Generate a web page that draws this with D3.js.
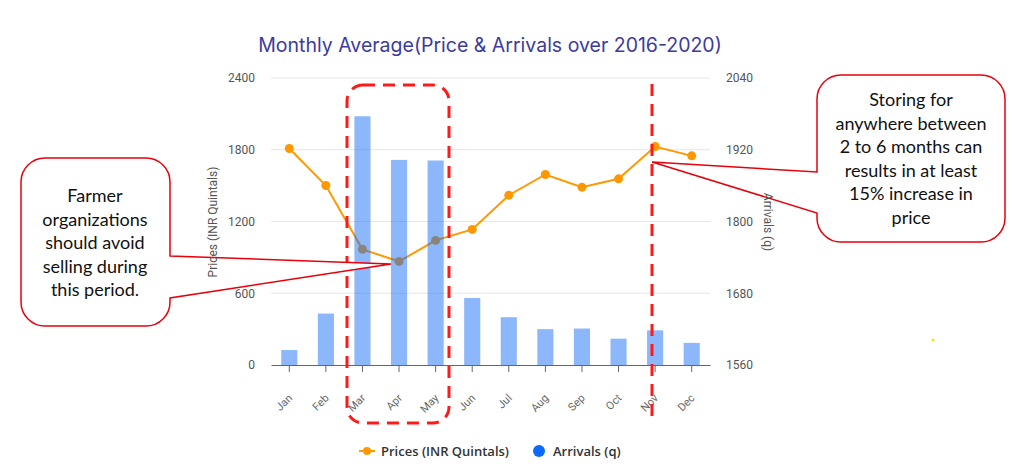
<!DOCTYPE html>
<html>
<head>
<meta charset="utf-8">
<script src="https://cdn.jsdelivr.net/npm/d3@7"></script>
<style>
  body { margin: 0; background: #fff; }
  svg { display: block; }
</style>
</head>
<body>
<div class="chart"></div>
<script>
// data
const months = ['Jan', 'Feb', 'Mar', 'Apr', 'May', 'Jun', 'Jul', 'Aug', 'Sep', 'Oct', 'Nov', 'Dec']
const prices = [1810, 1501, 967, 866, 1042, 1134, 1420, 1593, 1487, 1557, 1827, 1749]
const arrivals = [1585, 1646, 1976, 1903, 1902, 1672, 1640, 1620, 1621, 1604, 1618, 1597]
const priceTicks = [0, 600, 1200, 1800, 2400]
const arrivalTicks = [1560, 1680, 1800, 1920, 2040]
const leftNote = ['Farmer', 'organizations', 'should avoid', 'selling during', 'this period.']
const rightNote = ['Storing for', 'anywhere between', '2 to 6 months can', 'results in at least', '15% increase in', 'price']

const W = 1024, H = 467
const m = { top: 78, right: 314, bottom: 102, left: 271 }
const w = W - m.left - m.right
const h = H - m.top - m.bottom

const svg = d3.select('.chart').append('svg')
    .attr('width', W)
    .attr('height', H)

// 标题
svg.append('text')
    .attr('x', 490).attr('y', 52)
    .attr('text-anchor', 'middle')
    .attr('font-family', 'Inter, Roboto, sans-serif')
    .attr('font-size', '19.5px')
    .attr('fill', '#3c3ba0')
    .text('Monthly Average(Price & Arrivals over 2016-2020)')

const g = svg.append('g').attr('transform', `translate(${m.left},${m.top})`)

const x = d3.scaleBand().domain(months).range([0, w]).paddingInner(0.56).paddingOuter(0.28)
const yL = d3.scaleLinear().domain([0, 2400]).range([h, 0])
const yR = d3.scaleLinear().domain([1560, 2040]).range([h, 0])
const cx = d => x(d) + x.bandwidth() / 2

// 网格线
g.selectAll('line.grid')
    .data(priceTicks.slice(1))
    .enter().append('line')
    .attr('class', 'grid')
    .attr('x1', 0).attr('x2', w)
    .attr('y1', d => yL(d)).attr('y2', d => yL(d))
    .attr('stroke', '#e6e6e6')

// 左轴
const left = g.append('g')
    .call(d3.axisLeft(yL).tickValues(priceTicks).tickFormat(d3.format('d')).tickSize(0).tickPadding(16))
left.select('.domain').remove()
left.selectAll('text').attr('fill', '#555').attr('font-size', '12px').attr('font-family', 'Roboto, sans-serif')

// 右轴
const right = g.append('g')
    .attr('transform', `translate(${w},0)`)
    .call(d3.axisRight(yR).tickValues(arrivalTicks).tickFormat(d3.format('d')).tickSize(0).tickPadding(16))
right.select('.domain').remove()
right.selectAll('text').attr('fill', '#555').attr('font-size', '12px').attr('font-family', 'Roboto, sans-serif')

// 底轴
const bottom = g.append('g')
    .attr('transform', `translate(0,${h})`)
    .call(d3.axisBottom(x).tickSize(7).tickSizeOuter(0))
bottom.select('.domain').attr('stroke', '#666')
bottom.selectAll('.tick line').attr('stroke', '#666')
bottom.selectAll('text')
    .attr('fill', '#666')
    .attr('font-size', '11px')
    .attr('font-family', 'Roboto, sans-serif')
    .attr('text-anchor', 'end')
    .attr('x', 0).attr('y', 0)
    .attr('dy', '0.35em')
    .attr('transform', 'translate(1,31) rotate(-45)')

// 价格折线
const line = d3.line().x((d, i) => cx(months[i])).y(d => yL(d))
g.append('path')
    .datum(prices)
    .attr('d', line)
    .attr('fill', 'none')
    .attr('stroke', '#ff9800')
    .attr('stroke-width', 2)
g.selectAll('circle.pt')
    .data(prices)
    .enter().append('circle')
    .attr('class', 'pt')
    .attr('cx', (d, i) => cx(months[i]))
    .attr('cy', d => yL(d))
    .attr('r', 4.5)
    .attr('fill', '#ff9800')

// 到货量柱子(半透明, 盖在折线上)
g.selectAll('rect.bar')
    .data(arrivals)
    .enter().append('rect')
    .attr('class', 'bar')
    .attr('x', (d, i) => x(months[i]))
    .attr('y', d => yR(d))
    .attr('width', x.bandwidth())
    .attr('height', d => h - yR(d))
    .attr('fill', '#1a6ff5')
    .attr('fill-opacity', 0.5)

// 图例
const lg = svg.append('g').attr('font-family', '"Open Sans", sans-serif').attr('font-size', '13px')
    .attr('font-weight', 600).attr('fill', '#333')
lg.append('line').attr('x1', 359).attr('x2', 375).attr('y1', 451).attr('y2', 451)
    .attr('stroke', '#ff9800').attr('stroke-width', 2)
lg.append('circle').attr('cx', 367).attr('cy', 451).attr('r', 4).attr('fill', '#ff9800')
lg.append('text').attr('x', 381).attr('y', 455.5).text('Prices (INR Quintals)')
lg.append('circle').attr('cx', 539).attr('cy', 451).attr('r', 6).attr('fill', '#0b6af7')
lg.append('text').attr('x', 553).attr('y', 455.5).text('Arrivals (q)')

// 红色虚线标注
svg.append('rect')
    .attr('x', 347).attr('y', 85).attr('width', 102).attr('height', 338)
    .attr('rx', 16)
    .attr('fill', 'none').attr('stroke', '#ff1a1a').attr('stroke-width', 3)
    .attr('stroke-dasharray', '12 8')
svg.append('line')
    .attr('x1', 652).attr('x2', 652).attr('y1', 84).attr('y2', 421)
    .attr('stroke', '#ff1a1a').attr('stroke-width', 3)
    .attr('stroke-dasharray', '12 8')

// 气泡框
function callout(box, tip, base, lines, cxText, y0) {
    const [x0, y1, x1, y2] = box
    const r = 24
    const p = d3.path()
    p.moveTo(x0 + r, y1)
    p.lineTo(x1 - r, y1)
    p.arcTo(x1, y1, x1, y1 + r, r)
    if (base.side === 'right') {
        p.lineTo(x1, base.a)
        p.lineTo(tip[0], tip[1])
        p.lineTo(x1, base.b)
    }
    p.lineTo(x1, y2 - r)
    p.arcTo(x1, y2, x1 - r, y2, r)
    p.lineTo(x0 + r, y2)
    p.arcTo(x0, y2, x0, y2 - r, r)
    if (base.side === 'left') {
        p.lineTo(x0, base.b)
        p.lineTo(tip[0], tip[1])
        p.lineTo(x0, base.a)
    }
    p.lineTo(x0, y1 + r)
    p.arcTo(x0, y1, x0 + r, y1, r)
    p.closePath()
    svg.append('path').attr('d', p.toString())
        .attr('fill', '#fff').attr('stroke', '#e8000b').attr('stroke-width', 1.5)
    svg.append('g').selectAll('text')
        .data(lines)
        .enter().append('text')
        .attr('x', cxText)
        .attr('y', (d, i) => y0 + i * 23.5)
        .attr('text-anchor', 'middle')
        .attr('font-family', 'Lato, "Open Sans", sans-serif')
        .attr('font-size', '18px')
        .attr('fill', '#111')
        .text(d => d)
}
callout([21, 158, 170, 326], [391, 264], { side: 'right', a: 256, b: 298 }, leftNote, 95, 202)
callout([817, 75, 1005, 242], [652, 162], { side: 'left', a: 172, b: 213 }, rightNote, 911, 106)

// 轴标题(画在气泡框之上)
svg.append('text')
    .attr('transform', 'translate(217,222) rotate(-90)')
    .attr('text-anchor', 'middle')
    .attr('font-family', 'Roboto, sans-serif').attr('font-size', '12px').attr('fill', '#555')
    .text('Prices (INR Quintals)')
svg.append('text')
    .attr('transform', 'translate(764,222) rotate(90)')
    .attr('text-anchor', 'middle')
    .attr('font-family', 'Roboto, sans-serif').attr('font-size', '12px').attr('fill', '#555')
    .text('Arrivals (q)')

// 小黄点
svg.append('circle').attr('cx', 933).attr('cy', 340).attr('r', 1.5).attr('fill', '#f5e600')
</script>
</body>
</html>
